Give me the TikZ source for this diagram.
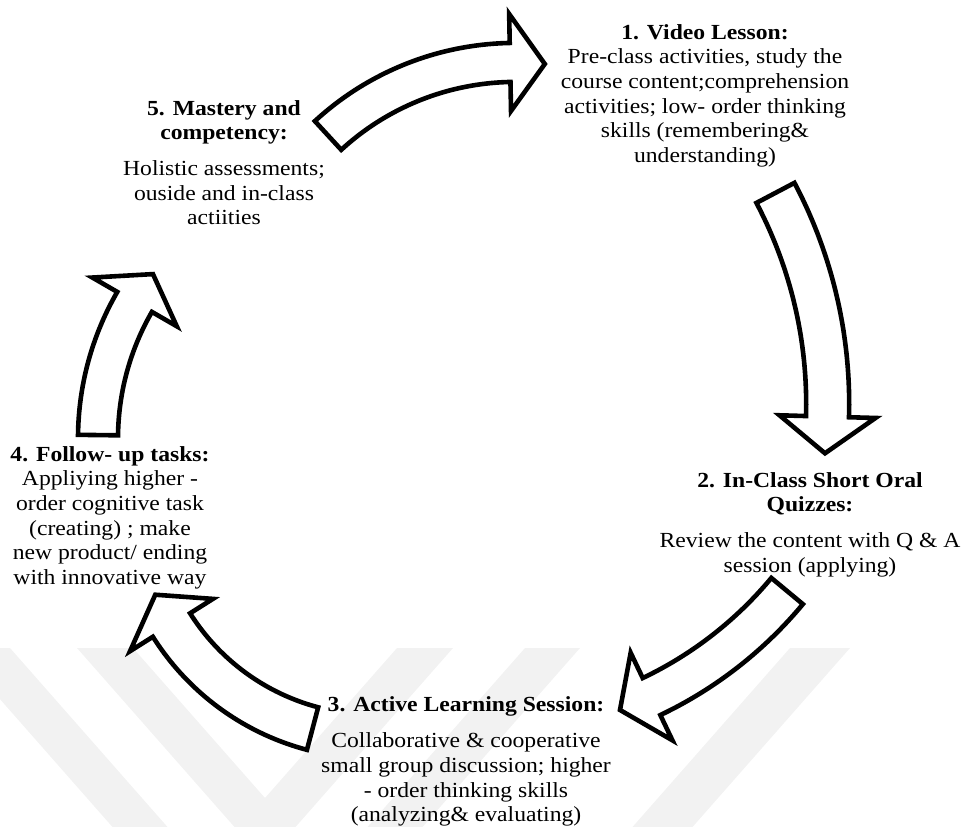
\documentclass[tikz,border=0pt]{standalone}
\usepackage{fontspec}
\setmainfont{Liberation Serif}[FakeStretch=1.1]
\usetikzlibrary{calc}

% Curved block arrow on a circle: centre (#1,#2), radius #3, half shaft width #4,
% half head width #5, tail angle #6, head base angle #7, tip angle #8
\newcommand{\cyclearrow}[8]{%
  \draw[blockarrow]
    plot[domain=#6:#7, samples=40] ({#1+(#3+#4)*cos(\x)}, {#2+(#3+#4)*sin(\x)})
    -- ({#1+(#3+#5)*cos(#7)}, {#2+(#3+#5)*sin(#7)})
    -- ({#1+#3*cos(#8)}, {#2+#3*sin(#8)})
    -- ({#1+(#3-#5)*cos(#7)}, {#2+(#3-#5)*sin(#7)})
    -- plot[domain=#6:#7, samples=40] ({#1+(#3-#4)*cos(#6+#7-\x)}, {#2+(#3-#4)*sin(#6+#7-\x)})
    -- cycle;}

\begin{document}
\begin{tikzpicture}[x=1pt, y=-1pt,
  stage/.style={align=center, inner sep=0pt, anchor=north,
                font=\fontsize{21.5}{24.7}\selectfont},
  blockarrow/.style={draw=black, fill=white, line width=4.6pt, line join=miter},
  band/.style={fill=black!5, draw=none}]

  \useasboundingbox (0,0) rectangle (964,827);

  % faint chevron bands in the background
  \fill[band] (-45,648) -- (10,648) -- (167.5,827) -- (112.5,827) -- cycle;
  \fill[band] (77,648) -- (133,648) -- (265,798) -- (397,648) -- (453,648)
              -- (295.5,827) -- (234.5,827) -- cycle;
  \fill[band] (525,648) -- (580,648) -- (422.5,827) -- (367.5,827) -- cycle;
  \fill[band] (790,648) -- (850,648) -- (692.5,827) -- (632.5,827) -- cycle;

  % the five curved arrows of the cycle
  \cyclearrow{515.4}{339.2}{276.8}{19.5}{48.5}{-132.6}{-91.1}{-83.9}
  \cyclearrow{375}{404}{452.7}{21.5}{48}{-27.8}{1.6}{6.25}
  \cyclearrow{479.4}{335.5}{400}{20.5}{48.5}{39.71}{64.51}{69.42}
  \cyclearrow{373.6}{497.5}{239}{22}{49}{104.8}{147.75}{156}
  \cyclearrow{371}{438.4}{273}{20}{48.7}{180.7}{210}{217}

  % stage descriptions
  \node[stage] (s1) at (705,24) {\textbf{1. Video Lesson:}\\Pre-class activities, study the\\course content;comprehension\\activities; low- order thinking\\skills (remembering\&\\understanding)};
  \node[stage] (s2) at (810,472) {\textbf{2. In-Class Short Oral}\\\textbf{Quizzes:}\\[11pt]Review the content with Q \& A\\session (applying)};
  \node[stage] (s3) at (466,696) {\textbf{3. Active Learning Session:}\\[12pt]Collaborative \& cooperative\\small group discussion; higher\\- order thinking skills\\(analyzing\& evaluating)};
  \node[stage] (s4) at (110,446) {\textbf{4. Follow- up tasks:}\\Appliying higher -\\order cognitive task\\(creating) ; make\\new product/ ending\\with innovative way};
  \node[stage] (s5) at (224,100) {\textbf{5. Mastery and}\\\textbf{competency:}\\[11pt]Holistic assessments;\\ouside and in-class\\actiities};
\end{tikzpicture}
\end{document}
